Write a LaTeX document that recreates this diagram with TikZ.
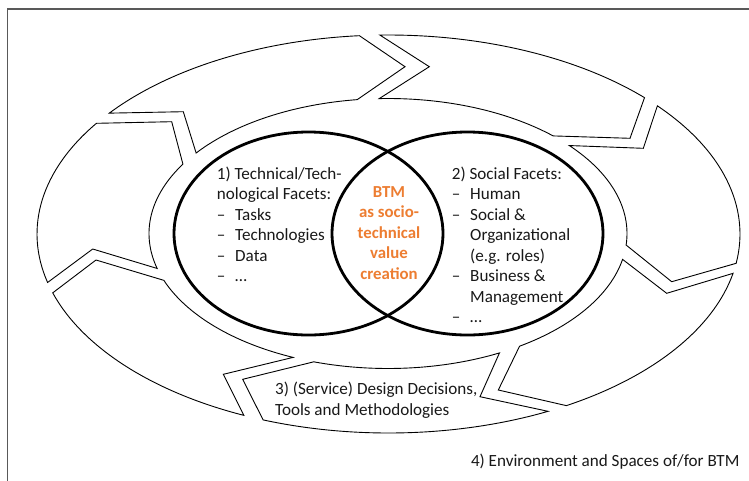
\documentclass[tikz,border=0pt]{standalone}
\usepackage{fontspec}
\setmainfont{Carlito}
\usetikzlibrary{calc}
\definecolor{btmorange}{HTML}{ED7D31}

% ring geometry (outer and inner ellipse of the cycle of arrows)
\def\orx{351.5}\def\ory{199}
\def\irx{239}\def\iry{135}

% one curved arrow of the cycle:
% #1,#2 outer arc angles, #3 tip, #4,#5 inner arc angles, #6 tail notch
\newcommand\ringarrow[6]{%
  \draw[ringseg] ($(oc)+({\orx*cos(#1)},{\ory*sin(#1)})$)
    arc[start angle=#1, end angle=#2, x radius=\orx, y radius=\ory]
    -- (#3)
    -- ($(ic)+({\irx*cos(#4)},{\iry*sin(#4)})$)
    arc[start angle=#4, end angle=#5, x radius=\irx, y radius=\iry]
    -- (#6) -- cycle;}

\newcommand\dashitem[1]{\makebox[18.3pt][l]{–}#1}
\newcommand\contline[1]{\hspace*{18.3pt}#1}

\begin{document}
\begin{tikzpicture}[x=1pt,y=-1pt,
  ringseg/.style={draw=black, line width=0.9pt, fill=white, line join=miter},
  facet/.style={draw=black, line width=2.8pt},
  txt/.style={font=\fontsize{17.1}{20.5}\selectfont, inner sep=0pt, text=black!90},
  core/.style={inner sep=0pt, font=\fontsize{16.8}{20.5}\selectfont\bfseries, text=btmorange}
]
\fill[white] (0,0) rectangle (749,480);
\useasboundingbox (0,0) rectangle (749,480);

% frame
\draw[black!65, line width=1.6pt] (7.5,9) rectangle (800,520);

\coordinate (oc) at (388.5,234);
\coordinate (ic) at (388,233.5);

% cycle of arrows, clockwise from the top left
\ringarrow{-142.6}{-94.75}{405,66.7}{-97.4}{-143.4}{183.3,111.7}
\ringarrow{-91.4}{-43.25}{630,138.3}{-46.3}{-92.1}{429.3,66.7}
\ringarrow{-40.1}{8.47}{671.7,281.7}{4.9}{-40.66}{643.3,148.3}
\ringarrow{11.4}{59.6}{498.3,390}{56.6}{11.05}{666.7,293.3}
\ringarrow{63.0}{110.9}{242.7,379.3}{108.1}{62.2}{480,396.7}
\ringarrow{114.3}{162.8}{96,260}{159.7}{113.4}{223.3,374.3}
\ringarrow{165.9}{213.8}{171.7,121.7}{210.9}{165.0}{92.7,249}

% the two facets
\coordinate (techc) at (308.5,233.5);
\coordinate (socc) at (467.5,233.5);
\draw[facet] (techc) ellipse [x radius=134.5, y radius=101.5];
\draw[facet] (socc) ellipse [x radius=135.5, y radius=101.5];

% technical facets
\foreach \txtline [count=\k from 0] in {1) Technical/Tech-, nological Facets:,
    \dashitem{Tasks}, \dashitem{Technologies}, \dashitem{Data}, \dashitem{…}}
  \node[txt, anchor=base west] (tech\k) at (216.7,{179+20.5*\k}) {\txtline};

% social facets
\foreach \txtline [count=\k from 0] in {2) Social Facets:, \dashitem{Human},
    \dashitem{Social \&}, \contline{Organizational}, \contline{(e.g. roles)},
    \dashitem{Business \&}, \contline{Management}, \dashitem{…}}
  \node[txt, anchor=base west] (soc\k) at (451.7,{179+20.5*\k}) {\txtline};

% intersection
\foreach \txtline [count=\k from 0] in {BTM, as socio-, technical, value, creation}
  \node[core, anchor=base] (core\k) at (389,{197+20.6*\k}) {\txtline};

% design decisions
\node[txt, anchor=base west] (design1) at (275,394.5) {3) (Service) Design Decisions,};
\node[txt, anchor=base west] (design2) at (275,415) {Tools and Methodologies};

% environment
\node[txt, anchor=base west] (env) at (470.8,466) {4) Environment and Spaces of/for BTM};
\end{tikzpicture}
\end{document}
